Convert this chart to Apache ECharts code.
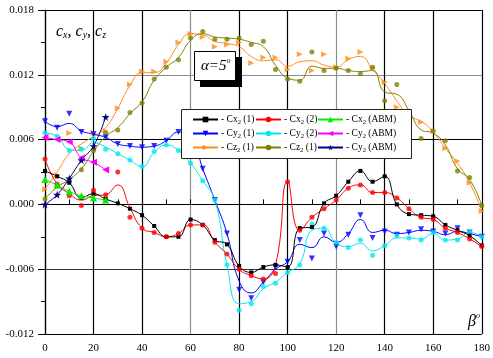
<!DOCTYPE html>
<html><head><meta charset="utf-8">
<script src="https://cdn.jsdelivr.net/npm/echarts@6/dist/echarts.min.js"></script>
<style>html,body{margin:0;padding:0;background:#fff}#c{width:493px;height:358px}</style>
</head><body><div id="c"></div>
<script>
const angles = [0,5,10,15,20,25,30,35,40,45,50,55,60,65,70,75,80,85,90,95,100,105,110,115,120,125,130,135,140,145,150,155,160,165,170,175,180];
const abmAngles = [0,5,10,15,20,25];
const xTicks = ['0','20','40','60','80','100','120','140','160','180'];

// measured points (markers)
const cx1 = [0.0031,0.0026,0.0020,0.0006,0.0010,0.0005,0.0001,-0.0004,-0.0010,-0.0020,-0.0030,-0.0030,-0.0014,-0.0019,-0.0033,-0.0037,-0.0057,-0.0063,-0.0058,-0.0056,-0.0058,-0.0022,-0.0021,0.0001,0.0008,0.0021,0.0031,0.0021,0.0026,0.0000,-0.0009,-0.0010,-0.0011,-0.0019,-0.0024,-0.0029,-0.0038];
const cx2 = [0.0042,0.0019,0.0008,-0.0001,0.0013,0.0009,0.0030,-0.0012,-0.0022,-0.0026,-0.0030,-0.0027,-0.0019,-0.0019,-0.0035,-0.0046,-0.0060,-0.0066,-0.0069,-0.0064,0.0021,-0.0024,-0.0012,-0.0004,0.0004,0.0015,0.0018,0.0011,0.0011,0.0006,-0.0004,-0.0012,-0.0014,-0.0022,-0.0026,-0.0032,-0.0039];
const cxAbm = [0.0023,0.0018,0.0012,0.0008,0.0006,0.0004];
const cy1 = [0.0077,0.0071,0.0084,0.0067,0.0065,0.0062,0.0056,0.0054,0.0053,0.0054,0.0059,0.0067,0.0066,0.0033,0.0004,-0.0027,-0.0079,-0.0087,-0.0072,-0.0058,-0.0053,-0.0033,-0.0050,-0.0027,-0.0039,-0.0028,-0.0010,-0.0031,-0.0025,-0.0028,-0.0026,-0.0023,-0.0025,-0.0027,-0.0022,-0.0026,-0.0030];
const cy2 = [0.0066,0.0063,0.0050,0.0051,0.0061,0.0051,0.0047,0.0041,0.0035,0.0049,0.0055,0.0050,0.0038,0.0022,0.0004,-0.0056,-0.0098,-0.0092,-0.0076,-0.0073,-0.0063,-0.0056,-0.0018,-0.0022,-0.0035,-0.0040,-0.0033,-0.0047,-0.0038,-0.0029,-0.0031,-0.0033,-0.0026,-0.0033,-0.0033,-0.0025,-0.0030];
const cyAbmA = [0.0062,0.0060,0.0058,0.0043,0.0039,0.0032];
const cyAbmB = [0.0000,0.0009,0.0024,0.0041,0.0054,0.0081];
const cz1a = [0.0014,0.0027,0.0066,0.0052,0.0066,0.0068,0.0089,0.0111,0.0123,0.0123,0.0132,0.0150,0.0158,0.0155,0.0146,0.0148,0.0150,0.0131,0.0136,0.0136,0.0125,0.0139,0.0124,0.0139,0.0127,0.0135,0.0141,0.0126,0.0113,0.0090,0.0077,0.0076,0.0068,0.0052,0.0040,0.0020,-0.0006];
const cz1b = [0.0005,0.0017,0.0022,0.0032,0.0050,0.0066,0.0069,0.0085,0.0094,0.0116,0.0127,0.0134,0.0154,0.0160,0.0153,0.0153,0.0154,0.0148,0.0151,0.0125,0.0116,0.0114,0.0141,0.0124,0.0126,0.0124,0.0121,0.0127,0.0096,0.0111,0.0084,0.0061,0.0068,0.0059,0.0031,0.0025,-0.0001];

// fitted curves
const cx2Fit = [0.0042,0.0019,0.0010,0.0004,0.0008,0.0009,0.0018,-0.0003,-0.0022,-0.0026,-0.0030,-0.0027,-0.0019,-0.0019,-0.0035,-0.0046,-0.0060,-0.0066,-0.0069,-0.0056,0.0021,-0.0024,-0.0012,-0.0004,0.0004,0.0015,0.0018,0.0011,0.0011,0.0006,-0.0004,-0.0012,-0.0014,-0.0022,-0.0026,-0.0032,-0.0039];
const cy1Fit = [0.0077,0.0072,0.0075,0.0068,0.0065,0.0062,0.0056,0.0054,0.0053,0.0054,0.0059,0.0067,0.0064,0.0033,0.0004,-0.0027,-0.0071,-0.0082,-0.0072,-0.0060,-0.0053,-0.0037,-0.0040,-0.0030,-0.0035,-0.0027,-0.0014,-0.0026,-0.0024,-0.0027,-0.0026,-0.0024,-0.0025,-0.0028,-0.0025,-0.0027,-0.0030];
const cy2Fit = [0.0066,0.0063,0.0051,0.0050,0.0057,0.0053,0.0047,0.0041,0.0035,0.0048,0.0055,0.0050,0.0038,0.0022,0.0004,-0.0056,-0.0092,-0.0090,-0.0078,-0.0072,-0.0063,-0.0055,-0.0024,-0.0022,-0.0036,-0.0039,-0.0036,-0.0043,-0.0038,-0.0031,-0.0031,-0.0032,-0.0027,-0.0033,-0.0032,-0.0026,-0.0030];
const cz1aFit = [0.0014,0.0030,0.0047,0.0056,0.0063,0.0071,0.0089,0.0110,0.0122,0.0122,0.0131,0.0148,0.0158,0.0157,0.0151,0.0149,0.0146,0.0137,0.0133,0.0134,0.0128,0.0132,0.0133,0.0129,0.0127,0.0134,0.0137,0.0125,0.0112,0.0096,0.0082,0.0077,0.0067,0.0052,0.0038,0.0020,-0.0006];
const cz1bFit = [0.0005,0.0016,0.0023,0.0033,0.0049,0.0063,0.0071,0.0084,0.0095,0.0115,0.0127,0.0136,0.0152,0.0158,0.0155,0.0154,0.0153,0.0150,0.0146,0.0129,0.0117,0.0115,0.0128,0.0126,0.0126,0.0124,0.0123,0.0124,0.0104,0.0102,0.0087,0.0069,0.0066,0.0055,0.0033,0.0023,-0.0001];

const STAR = 'path://M50,0 L61,35 L98,35 L68,57 L79,91 L50,70 L21,91 L32,57 L2,35 L39,35 Z';
const serif = '"Liberation Serif","DejaVu Serif",serif';

const labels = {
  'cx1':'- Cx{s|2} (1)','cx2':'- Cx{s|2} (2)','cxA':'- Cx{s|2} (ABM)',
  'cy1':'- Cy{s|2} (1)','cy2':'- Cy{s|2} (2)','cyA':'- Cy{s|2} (ABM)',
  'cz1a':'- Cz{s|2} (1)','cz1b':'- Cz{s|2} (1)','cyB':'- Cy{s|2} (ABM)'
};

function pairs(xs, ys) { return xs.map((a, i) => [a, ys[i]]); }

// curve series carrying the legend entry (symbol shown in legend only)
function curve(name, ys, color, symbol, rot, size) {
  return {
    name: name, type: 'line', smooth: 0.5, data: pairs(angles, ys),
    symbol: symbol, symbolRotate: rot || 0, symbolSize: size || 5,
    showSymbol: false, itemStyle: { color: color },
    lineStyle: { color: color, width: 1 }, z: 3
  };
}
function marks(name, ys, color, symbol, rot, size) {
  return {
    name: name + '_m', type: 'scatter', data: pairs(angles, ys),
    symbol: symbol, symbolRotate: rot || 0, symbolSize: size || 5,
    itemStyle: { color: color }, z: 4
  };
}
function full(name, xs, ys, color, symbol, rot, size) {
  return {
    name: name, type: 'line', smooth: 0.45, data: pairs(xs, ys),
    symbol: symbol, symbolRotate: rot || 0, symbolSize: size || 5,
    showAllSymbol: true, itemStyle: { color: color },
    lineStyle: { color: color, width: 1 }, z: 4
  };
}

const OR = '#ff8c1a', OL = '#808000', BL = '#0000ff', CY = '#00e8f0', RD = '#ff0000';
const series = [
  curve('cz1a', cz1aFit, OR, 'triangle', -90, 6), marks('cz1a', cz1a, OR, 'triangle', -90, 6),
  curve('cz1b', cz1bFit, OL, 'circle', 0, 5), marks('cz1b', cz1b, OL, 'circle', 0, 5),
  curve('cy1', cy1Fit, BL, 'triangle', 180, 6), marks('cy1', cy1, BL, 'triangle', 180, 6),
  curve('cy2', cy2Fit, CY, 'circle', 0, 5), marks('cy2', cy2, CY, 'circle', 0, 5),
  full('cx1', angles, cx1, '#000000', 'rect', 0, 4),
  curve('cx2', cx2Fit, RD, 'circle', 0, 5), marks('cx2', cx2, RD, 'circle', 0, 5),
  full('cyA', abmAngles, cyAbmA, '#ff00ff', 'triangle', 90, 7),
  full('cyB', abmAngles, cyAbmB, '#000080', STAR, 0, 8),
  full('cxA', abmAngles, cxAbm, '#00ee00', 'triangle', 0, 7)
];

function legend(left, names) {
  return {
    data: names, orient: 'vertical', left: left, top: 113, padding: 0,
    itemWidth: 25, itemHeight: 7, itemGap: 1, z: 60,
    selectedMode: false, symbolRotate: 'inherit',
    formatter: n => labels[n],
    textStyle: { fontFamily: serif, fontSize: 9.5, color: '#000', lineHeight: 13, padding: [0,0,0,-2],
      rich: { s: { fontFamily: serif, fontSize: 6.5, lineHeight: 7, verticalAlign: 'bottom', color: '#000' } } }
  };
}

const G = '#8c8c8c', K = '#000';
const chart = echarts.init(document.getElementById('c'), null, { renderer: 'canvas' });
chart.setOption({
  animation: false,
  backgroundColor: '#fff',
  grid: { left: 45, right: 4, top: 10, bottom: 24 },
  xAxis: {
    type: 'value', min: 0, max: 180, interval: 20,
    axisLine: { lineStyle: { color: K, width: 1.2 } },
    axisTick: { inside: true, length: 5, lineStyle: { color: K } },
    minorTick: { show: true, splitNumber: 2, length: 5, lineStyle: { color: K } },
    splitLine: { show: true, showMinLine: true, showMaxLine: true,
      lineStyle: { color: [K, K, K, G, K, K, G, K, K, K], width: 1.2 } },
    axisLabel: { margin: 9, fontFamily: serif, fontSize: 11, color: K,
      formatter: v => xTicks[Math.round(v / 20)] }
  },
  yAxis: {
    type: 'value', min: -0.012, max: 0.018, interval: 0.006,
    axisLine: { show: true, lineStyle: { color: K, width: 1.2 } },
    axisTick: { inside: false, length: 7, lineStyle: { color: K } },
    minorTick: { show: true, splitNumber: 2, length: 4, lineStyle: { color: K } },
    splitLine: { show: true, showMinLine: true, showMaxLine: true,
      lineStyle: { color: [K, '#333', K, K, G, K], width: 1.2 } },
    axisLabel: { margin: 11, fontFamily: serif, fontSize: 11, color: K,
      formatter: v => (Math.abs(v) < 1e-9 ? 0 : v).toFixed(3) }
  },
  legend: [
    legend(192, ['cx1', 'cy1', 'cz1a']),
    legend(255, ['cx2', 'cy2', 'cz1b']),
    legend(317, ['cxA', 'cyA', 'cyB'])
  ],
  graphic: [
    { type: 'rect', z: 50, shape: { x: 181.5, y: 109.5, width: 230, height: 49 },
      style: { fill: '#fff', stroke: '#222', lineWidth: 1 } },
    { type: 'rect', z: 50, shape: { x: 200, y: 57, width: 42, height: 30 },
      style: { fill: '#000' } },
    { type: 'rect', z: 51, shape: { x: 194.5, y: 51.5, width: 41, height: 29 },
      style: { fill: '#fff', stroke: '#000', lineWidth: 1 } },
    { type: 'text', z: 52, left: 201, top: 57,
      style: { text: '{a|α=5}{o|o}', fill: '#000',
        rich: { a: { fontFamily: serif, fontStyle: 'italic', fontSize: 15, lineHeight: 17, verticalAlign: 'bottom' },
                o: { fontFamily: serif, fontStyle: 'italic', fontSize: 8, lineHeight: 17, verticalAlign: 'top', padding: [0,0,6,0] } } } },
    { type: 'text', z: 52, left: 56, top: 24,
      style: { text: '{c|c}{s|x}{c|, c}{s|y}{c|, c}{s|z}', fill: '#000',
        rich: { c: { fontFamily: serif, fontStyle: 'italic', fontSize: 16, lineHeight: 16, verticalAlign: 'top' },
                s: { fontFamily: serif, fontStyle: 'italic', fontSize: 10, lineHeight: 10, verticalAlign: 'bottom' } } } },
    { type: 'text', z: 52, left: 468, top: 312,
      style: { text: '{b|β}{o|o}', fill: '#000',
        rich: { b: { fontFamily: serif, fontStyle: 'italic', fontSize: 16, lineHeight: 18, verticalAlign: 'bottom' },
                o: { fontFamily: serif, fontStyle: 'italic', fontSize: 8, lineHeight: 8, verticalAlign: 'top' } } } }
  ],
  series: series
});
</script></body></html>
